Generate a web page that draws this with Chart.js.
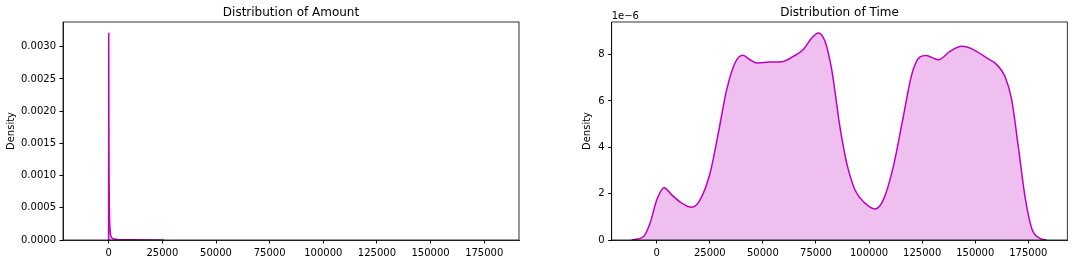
<!DOCTYPE html>
<html>
<head>
<meta charset="utf-8">
<script src="https://cdn.jsdelivr.net/npm/chart.js@4/dist/chart.umd.min.js"></script>
<style>
  html, body { margin: 0; padding: 0; background: #fff; }
  .wrap { position: absolute; top: 0; width: 537px; height: 264px; }
  #left { left: 0; }
  #right { left: 537px; }
</style>
</head>
<body>
<div class="wrap" id="left"><canvas id="amountChart"></canvas></div>
<div class="wrap" id="right"><canvas id="timeChart"></canvas></div>
<script>
// x tick labels (shared by both panels)
const xTicks = [0, 25000, 50000, 75000, 100000, 125000, 150000, 175000];

// Distribution of Amount (KDE)
const amountX = [-60, -30, -10, 0, 15, 40, 80, 150, 300, 600, 1200, 2500, 5000, 10000, 25700];
const amountDensity = [0, 0.0008, 0.0022, 0.0029, 0.00321, 0.0027, 0.0019, 0.0011, 0.0005, 0.00018, 0.00005, 0.000015, 0.000005, 0.000002, 0];
const amountYTicks = [0, 0.0005, 0.0010, 0.0015, 0.0020, 0.0025, 0.0030];
const amountXRange = [-21300, 191200];
const amountYMax = 0.003385;

// Distribution of Time (density in units of 1e-6)
const timeX = [-11800, -6300, -3150, 0, 3440, 7060, 11770, 16480, 20390, 25100, 29000, 32960, 36870, 40500,
  43940, 47100, 53350, 59620, 64330, 69040, 72980, 76100, 79250, 82410, 86320, 89470, 93380, 98090,
  102800, 106710, 111420, 116130, 120080, 124000, 126810, 132600, 138100, 143620, 149090, 155400,
  160100, 164020, 167170, 170280, 173430, 176590, 180500, 183650];
const timeDensityE6 = [0, 0.14, 0.72, 1.73, 2.26, 1.95, 1.59, 1.41, 1.73, 2.88, 4.61, 6.49, 7.64, 7.97,
  7.78, 7.64, 7.68, 7.71, 7.93, 8.22, 8.72, 8.94, 8.58, 7.35, 4.86, 3.32, 2.16, 1.59,
  1.34, 1.73, 3.17, 5.33, 7.14, 7.90, 7.96, 7.78, 8.14, 8.36, 8.22, 7.86,
  7.57, 7.06, 6.05, 4.03, 1.87, 0.50, 0.07, 0];
const timeYTicks = [0, 2, 4, 6, 8];
const timeXRange = [-21200, 193350];
const timeYMax = 9.41;

const FONT = 'DejaVu Sans';
Chart.defaults.font.family = FONT;
Chart.defaults.color = '#000';

// full box around the plot area, like matplotlib spines
const frame = {
  id: 'frame',
  afterDraw(chart) {
    const a = chart.chartArea, c = chart.ctx;
    c.save();
    c.strokeStyle = '#000';
    c.lineWidth = 0.8;
    c.strokeRect(a.left, a.top, a.right - a.left, a.bottom - a.top);
    c.restore();
  }
};

// "1e−6" offset text above the y axis
const offsetText = {
  id: 'offsetText',
  afterDraw(chart, args, opts) {
    if (!opts.text) return;
    const c = chart.ctx;
    c.save();
    c.font = '10px ' + FONT;
    c.fillStyle = '#000';
    c.textAlign = 'left';
    c.textBaseline = 'middle';
    c.fillText(opts.text, chart.chartArea.left, 16);
    c.restore();
  }
};

function makeChart(id, cfg) {
  const pts = cfg.xs.map((x, i) => ({ x: x, y: cfg.ys[i] }));
  return new Chart(document.getElementById(id), {
    type: 'line',
    data: {
      datasets: [{
        data: pts,
        borderColor: '#bf00bf',
        backgroundColor: '#efbfef',
        borderWidth: 1.5,
        fill: 'origin',
        pointRadius: 0,
        cubicInterpolationMode: 'monotone'
      }]
    },
    plugins: [frame, offsetText],
    options: {
      responsive: true,
      maintainAspectRatio: false,
      animation: false,
      layout: { padding: { left: cfg.padLeft, right: cfg.padRight, top: 0, bottom: 0 } },
      plugins: {
        legend: { display: false },
        tooltip: { enabled: false },
        title: {
          display: true,
          text: cfg.title,
          fullSize: false,
          font: { size: 12, weight: 'normal' },
          padding: { top: 5.8, bottom: 1.8 }
        },
        offsetText: { text: cfg.offset }
      },
      scales: {
        x: {
          type: 'linear',
          min: cfg.xRange[0],
          max: cfg.xRange[1],
          afterBuildTicks: s => { s.ticks = xTicks.map(v => ({ value: v })); },
          afterFit: s => { s.height = 24; },
          grid: { display: true, drawOnChartArea: false, drawTicks: true, tickLength: 3.5, color: '#000' },
          border: { display: true, color: '#000', width: 0.8 },
          ticks: { font: { size: 10 }, padding: 3.5, maxRotation: 0, autoSkip: false, callback: v => String(v) }
        },
        y: {
          type: 'linear',
          min: 0,
          max: cfg.yMax,
          afterBuildTicks: s => { s.ticks = cfg.yTicks.map(v => ({ value: v })); },
          afterFit: s => { s.width = cfg.yWidth; },
          grid: { display: true, drawOnChartArea: false, drawTicks: true, tickLength: 3.5, color: '#000' },
          border: { display: true, color: '#000', width: 0.8 },
          ticks: { font: { size: 10 }, padding: 3.5, autoSkip: false, callback: cfg.yLabel },
          title: { display: true, text: 'Density', font: { size: 10 }, padding: { top: cfg.titlePad, bottom: 0 } }
        }
      }
    }
  });
}

makeChart('amountChart', {
  xs: amountX, ys: amountDensity, title: 'Distribution of Amount',
  xRange: amountXRange, yMax: amountYMax, yTicks: amountYTicks,
  yLabel: v => v.toFixed(4), yWidth: 63, padLeft: 0, padRight: 18, titlePad: 5.7, offset: ''
});

makeChart('timeChart', {
  xs: timeX, ys: timeDensityE6, title: 'Distribution of Time',
  xRange: timeXRange, yMax: timeYMax, yTicks: timeYTicks,
  yLabel: v => String(v), yWidth: 36.7, padLeft: 38, padRight: 6.7, titlePad: 6.3, offset: '1e\u22126'
});
</script>
</body>
</html>
